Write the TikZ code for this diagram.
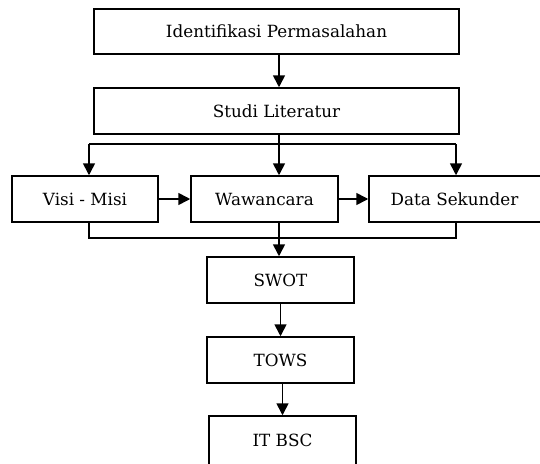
\documentclass[tikz,border=0pt]{standalone}
\usepackage{fontspec}
\setmainfont{DejaVu Serif}
\usetikzlibrary{arrows.meta}
\begin{document}
\begin{tikzpicture}[x=1pt,y=-1pt,
  box/.style={draw=black, line width=1.5pt, rectangle, inner sep=0pt, font=\fontsize{16.8}{20}\selectfont},
  arr/.style={line width=1.6pt, -{Triangle[width=12pt,length=12pt]}},
  ln/.style={line width=1.6pt}]
\useasboundingbox (0,0) rectangle (540,463);
\node[box, minimum width=365pt, minimum height=45pt] (id) at (276.5,31.5) {Identifikasi Permasalahan};
\node[box, minimum width=365pt, minimum height=46pt] (studi) at (276.5,111) {Studi Literatur};
\node[box, minimum width=146pt, minimum height=46pt] (visi) at (85,199) {Visi - Misi};
\node[box, minimum width=147pt, minimum height=46pt] (waw) at (264.5,199) {Wawancara};
\node[box, minimum width=180pt, minimum height=46pt] (data) at (459,199) {\hspace*{-9pt}Data Sekunder};
\node[box, minimum width=147pt, minimum height=46pt] (swot) at (280.5,280) {SWOT};
\node[box, minimum width=147pt, minimum height=46pt] (tows) at (280.5,360) {TOWS};
\node[box, minimum width=147pt, minimum height=52pt] (itbsc) at (282.5,442) {\raisebox{3pt}{IT BSC}};
\coordinate (tl) at (89,144);
\coordinate (tm) at (279,144);
\coordinate (tr) at (456,144);
\coordinate (bl) at (89,238);
\coordinate (bm) at (279,238);
\coordinate (br) at (456,238);
\draw[arr] (id.south -| tm) -- (studi.north -| tm);
\draw[ln] (studi.south -| tm) -- (tm);
\draw[ln] (tl) -- (tr);
\draw[arr] (tl) -- (tl |- visi.north);
\draw[arr] (tm) -- (tm |- waw.north);
\draw[arr] (tr) -- (tr |- data.north);
\draw[arr] (visi.east) -- (waw.west);
\draw[arr] (waw.east) -- (data.west);
\draw[ln] (visi.south -| bl) -- (bl) -- (br) -- (data.south -| br);
\draw[arr] (waw.south -| bm) -- (bm |- swot.north);
\draw[arr] (swot.south) -- (tows.north);
\draw[arr] (tows.south -| itbsc.north) -- (itbsc.north);
\end{tikzpicture}
\end{document}
